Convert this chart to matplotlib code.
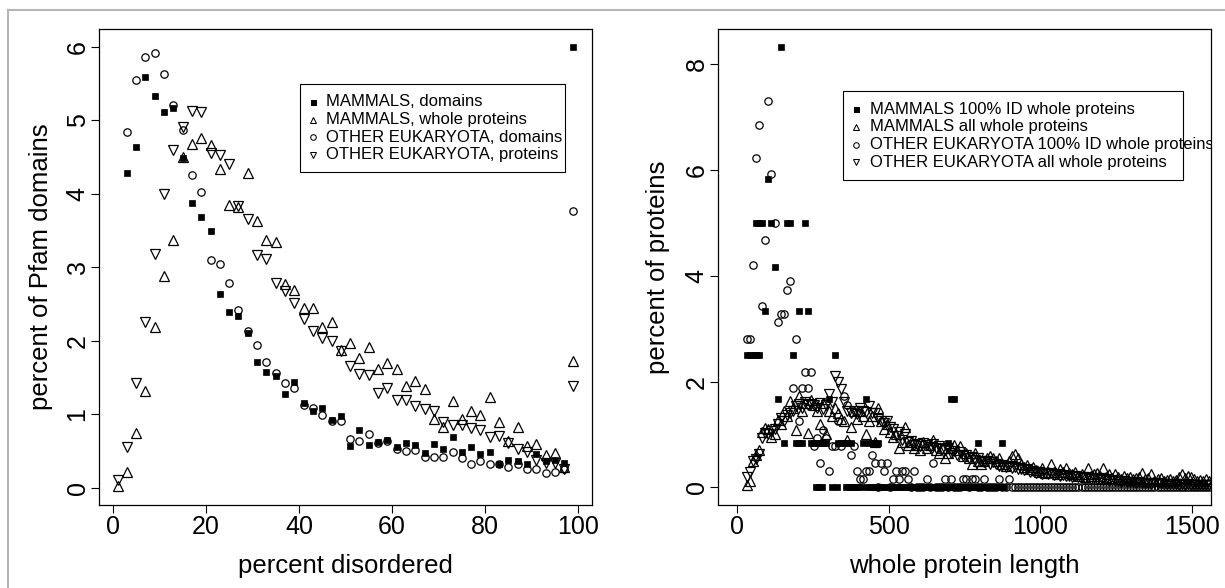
import numpy as np
import matplotlib
matplotlib.use("Agg")
import matplotlib.pyplot as plt
from matplotlib.patches import Rectangle
from matplotlib.lines import Line2D

nan = np.nan

# ---- left panel: percent disordered bins ----
pct_disordered = [1, 3, 5, 7, 9, 11, 13, 15, 17, 19, 21, 23, 25, 27, 29, 31, 33, 35, 37, 39,
                  41, 43, 45, 47, 49, 51, 53, 55, 57, 59, 61, 63, 65, 67, 69, 71, 73, 75, 77, 79,
                  81, 83, 85, 87, 89, 91, 93, 95, 97, 99]
mam_domains = [nan, 4.28, 4.64, 5.59, 5.33, 5.11, 5.17, 4.49, 3.87, 3.68,
               3.49, 2.64, 2.39, 2.34, 2.11, 1.71, 1.57, 1.52, 1.27, 1.44,
               1.15, 1.05, 1.09, 0.92, 0.97, 0.57, 0.79, 0.58, 0.62, 0.65,
               0.55, 0.61, 0.58, 0.47, 0.59, 0.53, 0.69, 0.49, 0.55, 0.46,
               0.49, 0.32, 0.38, 0.36, 0.32, 0.46, 0.36, 0.38, 0.33, 5.99]
mam_whole = [0.02, 0.21, 0.74, 1.32, 2.19, 2.88, 3.37, 4.50, 4.68, 4.76,
             4.66, 4.33, 3.84, 3.82, 4.28, 3.63, 3.37, 3.34, 2.77, 2.69,
             2.44, 2.44, 2.18, 2.25, 1.87, 1.97, 1.76, 1.91, 1.62, 1.69,
             1.62, 1.38, 1.45, 1.34, 0.93, 0.83, 1.18, 0.94, 1.05, 0.99,
             1.24, 0.89, 0.63, 0.82, 0.57, 0.60, 0.45, 0.47, 0.28, 1.73]
oth_domains = [nan, 4.84, 5.55, 5.86, 5.91, 5.63, 5.21, 4.87, 4.25, 4.02,
               3.10, 3.04, 2.78, 2.42, 2.13, 1.94, 1.71, 1.56, 1.43, 1.36,
               1.12, 1.08, 0.99, 0.91, 0.91, 0.66, 0.64, 0.73, 0.61, 0.63,
               0.53, 0.50, 0.51, 0.42, 0.42, 0.42, 0.49, 0.41, 0.32, 0.37,
               0.32, 0.32, 0.28, 0.32, 0.26, 0.25, 0.20, 0.21, 0.25, 3.76]
oth_proteins = [0.10, 0.55, 1.43, 2.25, 3.18, 3.99, 4.60, 4.91, 5.12, 5.11,
                4.56, 4.53, 4.41, 3.83, 3.65, 3.17, 3.11, 2.79, 2.68, 2.51,
                2.30, 2.13, 2.04, 1.99, 1.86, 1.65, 1.55, 1.54, 1.29, 1.36,
                1.20, 1.19, 1.11, 1.07, 1.05, 0.89, 0.85, 0.85, 0.81, 0.79,
                0.69, 0.70, 0.61, 0.53, 0.49, 0.38, 0.33, 0.33, 0.26, 1.39]
left_labels = ["MAMMALS, domains", "MAMMALS, whole proteins",
               "OTHER EUKARYOTA, domains", "OTHER EUKARYOTA, proteins"]

# ---- right panel: whole protein length bins (centres, width 10) ----
length_bins = list(range(35, 1556, 10))

# mammals 100% ID: sparse readings (x, y) and the zero row
m100_x = [35, 45, 55, 65, 75, 65, 75, 85, 95, 105, 115, 125, 135, 145, 155,
          165, 175, 185, 195, 205, 215, 205, 225, 235,
          245, 255, 265, 275, 285, 295, 305, 325, 335, 345, 355, 365, 375,
          415, 425, 435, 445, 455, 465, 695, 705, 715, 795, 875]
m100_y = [2.5, 2.5, 2.5, 2.5, 2.5, 5.0, 5.0, 5.0, 3.33, 5.83, 5.0, 4.17, 1.67, 8.33, 0.83,
          5.0, 5.0, 2.5, 0.83, 0.83, 0.83, 3.33, 5.0, 3.33,
          0.83, 0.83, 0.83, 0.83, 0.83, 0.83, 1.67, 2.5, 0.83, 0.83, 0.83, 0.83, 0.83,
          0.83, 1.67, 0.83, 0.83, 0.83, 0.83, 0.83, 1.67, 1.67, 0.83, 0.83]
m100_zero_x = [260, 270, 280, 315, 330, 360, 370, 380, 390, 400, 410,
               430, 440, 450, 460, 470, 480, 490, 500, 510, 520, 530, 540, 550,
               560, 570, 580, 590, 600, 610, 620, 630, 640, 650, 660, 670, 680,
               690, 700, 710, 720, 730, 740, 750, 760, 770, 780, 790, 800, 810,
               820, 830, 840, 850, 860, 870, 880]

mam_all = [0.05, 0.12, 0.50, 0.62, 0.70, 1.05, 1.13, 1.10, 0.95, 1.00,
           1.28, 1.20, 1.45, 1.35, 1.63, 1.50, 1.09, 1.72, 1.45, 1.60,
           1.03, 1.66, 1.55, 1.45, 1.20, 1.60, 1.00, 1.45, 1.35, 1.50,
           1.40, 1.30, 1.25, 0.90, 1.15, 1.45, 1.30, 1.45, 1.35, 1.00,
           1.25, 1.35, 0.85, 1.50, 1.25, 1.10, 1.20, 1.05, 0.95, 1.00,
           0.75, 0.85, 1.15, 0.80, 0.85, 0.75, 0.80, 0.70, 0.85, 0.75,
           0.80, 0.90, 0.70, 0.65, 0.75, 0.55, 0.65, 0.75, 0.80, 0.70,
           0.79, 0.60, 0.65, 0.55, 0.45, 0.65, 0.50, 0.45, 0.50, 0.55,
           0.59, 0.55, 0.50, 0.55, 0.45, 0.40, 0.50, 0.60, 0.64, 0.55,
           0.45, 0.38, 0.42, 0.35, 0.38, 0.32, 0.30, 0.36, 0.28, 0.30,
           0.45, 0.30, 0.25, 0.34, 0.30, 0.36, 0.28, 0.25, 0.30, 0.22,
           0.26, 0.20, 0.36, 0.22, 0.25, 0.28, 0.22, 0.36, 0.20, 0.26,
           0.18, 0.26, 0.20, 0.15, 0.22, 0.18, 0.20, 0.16, 0.18, 0.20,
           0.27, 0.15, 0.18, 0.25, 0.12, 0.15, 0.18, 0.12, 0.14, 0.15,
           0.12, 0.14, 0.20, 0.25, 0.18, 0.22, 0.20, 0.15, 0.12, 0.14,
           0.12, 0.15, 0.12]
oe100 = [2.81, 2.81, 4.20, 6.23, 6.85, 3.43, 4.67, 7.31, 5.92, 4.99,
         3.12, 3.28, 3.28, 3.74, 3.90, 1.87, 2.81, 1.25, 1.87, 2.18,
         1.87, 2.18, 0.78, 0.94, 0.47, 1.09, 0.94, 0.31, 0.78, 0.78,
         1.25, 0.78, 1.72, 1.56, 0.62, 0.78, 0.31, 0.16, 0.16, 0.31,
         0.31, 0.62, 0.47, 0.00, 0.47, 0.31, 0.47, 0.00, 0.16, 0.31,
         0.16, 0.31, 0.31, 0.16, 0.00, 0.31, 0.00, 0.00, 0.00, 0.16,
         0.00, 0.47, 0.00, 0.00, 0.00, 0.16, 0.00, 0.16, 0.00, 0.00,
         0.00, 0.16, 0.16, 0.00, 0.16, 0.16, 0.00, 0.00, 0.16, 0.00,
         0.00, 0.00, 0.00, 0.16, 0.00, 0.00, 0.16, 0.00, 0.00, 0.00,
         0, 0, 0, 0, 0, 0, 0, 0, 0, 0,
         0, 0, 0, 0, 0, 0, 0, 0, 0, 0,
         0, 0, 0, 0, 0, 0, 0, 0, 0, 0,
         0, 0, 0, 0, 0, 0, 0, 0, 0, 0,
         0, 0, 0, 0, 0, 0, 0, 0, 0, 0,
         0, 0, 0, 0, 0, 0, 0, 0, 0, 0,
         0, 0, 0]
oe_all = [0.20, 0.30, 0.50, 0.54, 0.64, 0.94, 1.03, 1.00, 1.07, 1.10,
          1.20, 1.31, 1.25, 1.36, 1.40, 1.45, 1.53, 1.57, 1.50, 1.62,
          1.55, 1.58, 1.55, 1.50, 1.60, 1.48, 1.55, 1.77, 1.62, 2.11,
          2.00, 1.86, 1.61, 1.45, 1.41, 1.44, 1.38, 1.50, 1.45, 1.42,
          1.53, 1.41, 1.41, 1.30, 1.25, 1.22, 1.25, 1.15, 1.10, 0.97,
          1.05, 0.89, 1.00, 0.85, 0.88, 0.80, 0.82, 0.78, 0.84, 0.80,
          0.76, 0.82, 0.75, 0.78, 0.72, 0.70, 0.74, 0.65, 0.68, 0.62,
          0.66, 0.60, 0.62, 0.55, 0.58, 0.52, 0.55, 0.50, 0.48, 0.50,
          0.45, 0.48, 0.44, 0.40, 0.42, 0.38, 0.40, 0.36, 0.38, 0.34,
          0.35, 0.32, 0.34, 0.30, 0.31, 0.28, 0.30, 0.26, 0.28, 0.25,
          0.27, 0.24, 0.25, 0.22, 0.24, 0.21, 0.22, 0.20, 0.21, 0.19,
          0.20, 0.17, 0.19, 0.16, 0.18, 0.15, 0.16, 0.14, 0.15, 0.13,
          0.14, 0.12, 0.13, 0.11, 0.12, 0.10, 0.11, 0.10, 0.09, 0.10,
          0.08, 0.09, 0.08, 0.07, 0.08, 0.07, 0.08, 0.06, 0.07, 0.06,
          0.07, 0.06, 0.05, 0.06, 0.05, 0.06, 0.05, 0.05, 0.04, 0.05,
          0.04, 0.05, 0.04]
right_labels = ["MAMMALS 100% ID whole proteins", "MAMMALS all whole proteins",
                "OTHER EUKARYOTA 100% ID whole proteins", "OTHER EUKARYOTA all whole proteins"]

plt.rcParams['font.family'] = ['Liberation Sans', 'DejaVu Sans']

W, H = 1225, 588
fig = plt.figure(figsize=(W / 100, H / 100), dpi=100)

# marker styles (R pch 15, 2, 1, 6)
sq = dict(marker='s', ms=5.0, mfc='black', mec='black', mew=0.5, ls='none')
up = dict(marker='^', ms=6.6, mfc='none', mec='black', mew=0.9, ls='none')
ci = dict(marker='o', ms=5.3, mfc='none', mec='black', mew=0.9, ls='none')
dn = dict(marker='v', ms=6.6, mfc='none', mec='black', mew=0.9, ls='none')
styles = [sq, up, ci, dn]


def px_axes(l, t, r, b):
    return [l / W, 1 - b / H, (r - l) / W, (b - t) / H]


def style_axes(ax):
    for s in ax.spines.values():
        s.set_linewidth(0.9)
    ax.tick_params(direction='out', length=5.5, width=0.8, labelsize=18, colors='black')
    ax.tick_params(axis='x', pad=1.5)
    ax.tick_params(axis='y', pad=1.5)
    for lab in ax.get_yticklabels():
        lab.set_rotation(90)
        lab.set_va('center')


def legend_box(ax, ext, box, rows, mark_x, text_x, labels):
    l, t, r, b = ext
    fx = lambda p: (p - l) / (r - l)
    fy = lambda p: (b - p) / (b - t)
    x0, y0, x1, y1 = box
    ax.add_patch(Rectangle((fx(x0), fy(y1)), fx(x1) - fx(x0), fy(y0) - fy(y1),
                           transform=ax.transAxes, facecolor='white', edgecolor='black',
                           lw=0.8, zorder=5))
    small = [3.6, 4.8, 4.0, 4.8]
    for st, ms, ry, lab in zip(styles, small, rows, labels):
        kw = dict(st)
        kw['ms'] = ms
        kw['mew'] = 0.75
        ax.plot([fx(mark_x)], [fy(ry)], transform=ax.transAxes, zorder=6, clip_on=False, **kw)
        t_ = ax.text(fx(text_x), fy(ry), lab, transform=ax.transAxes, fontsize=12,
                     ha='left', va='center', zorder=6, clip_on=True)
        t_.set_clip_path(ax.patch)


# left panel
ext1 = (99.3, 29, 591.7, 505)
ax1 = fig.add_axes(px_axes(*ext1))
ax1.plot(pct_disordered, mam_domains, **sq)
ax1.plot(pct_disordered, mam_whole, **up)
ax1.plot(pct_disordered, oth_domains, **ci)
ax1.plot(pct_disordered, oth_proteins, **dn)
ax1.set_xlim(-2.92, 102.92)
ax1.set_ylim(-0.235, 6.24)
ax1.set_xticks([0, 20, 40, 60, 80, 100])
ax1.set_yticks([0, 1, 2, 3, 4, 5, 6])
style_axes(ax1)
ax1.set_xlabel('percent disordered', fontsize=18.5)
ax1.set_ylabel('percent of Pfam domains', fontsize=18.5)
ax1.xaxis.set_label_coords(0.5, -0.102)
ax1.yaxis.set_label_coords(-0.094, 0.5)
legend_box(ax1, ext1, (299.6, 83.5, 564.8, 172.2), [101.5, 119.5, 137.2, 154.9],
           313.3, 326.2, left_labels)

# right panel
ext2 = (718.3, 29, 1210.7, 505)
ax2 = fig.add_axes(px_axes(*ext2))
ax2.plot(m100_x + m100_zero_x, m100_y + [0.0] * len(m100_zero_x), **sq)
ax2.plot(length_bins, mam_all, **up)
ax2.plot(length_bins, oe100, **ci)
ax2.plot(length_bins, oe_all, **dn)
ax2.set_xlim(-60, 1560)
ax2.set_ylim(-0.333, 8.666)
ax2.set_xticks([0, 500, 1000, 1500])
ax2.set_yticks([0, 2, 4, 6, 8])
style_axes(ax2)
ax2.set_xlabel('whole protein length', fontsize=18.5)
ax2.set_ylabel('percent of proteins', fontsize=18.5)
ax2.xaxis.set_label_coords(0.5, -0.102)
ax2.yaxis.set_label_coords(-0.098, 0.5)
legend_box(ax2, ext2, (843.3, 90.7, 1182.8, 180.0), [109.4, 127.0, 144.7, 162.4],
           856.3, 870.0, right_labels)

# light grey outer frame (top and left edges visible)
fig.add_artist(Line2D([8 / W, 1], [1 - 10 / H, 1 - 10 / H], transform=fig.transFigure,
                      color='#b5b5b5', lw=1.5))
fig.add_artist(Line2D([8 / W, 8 / W], [0, 1 - 10 / H], transform=fig.transFigure,
                      color='#b5b5b5', lw=1.5))

fig.savefig('out.png', dpi=100)
